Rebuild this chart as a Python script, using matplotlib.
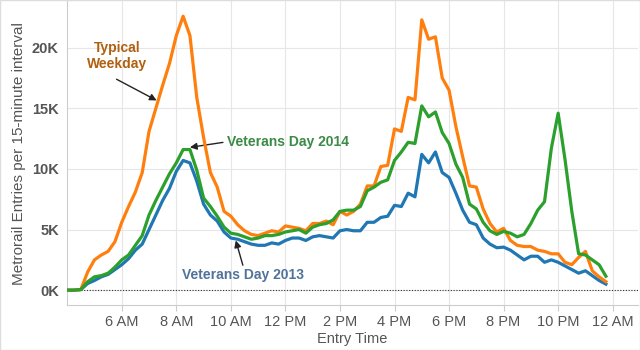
import numpy as np
import matplotlib
matplotlib.use('Agg')
import matplotlib.pyplot as plt

plt.rcParams['font.family'] = ['Liberation Sans', 'DejaVu Sans']

# entry time in hours, 15-minute intervals from 4:00 AM to 11:45 PM
hours = np.arange(4, 24, 0.25)

# entries per 15-minute interval, in thousands
weekday = [0, 0, 0.05, 1.5, 2.5, 2.9, 3.2, 4.0,
           5.6, 6.9, 8.1, 9.7, 13.1, 15.0, 16.9, 18.7,
           21.0, 22.6, 21.0, 15.9, 12.6, 9.7, 8.5, 6.5,
           6.1, 5.4, 4.9, 4.6, 4.5, 4.7, 4.9, 4.8,
           5.3, 5.2, 5.1, 4.9, 5.5, 5.5, 5.7, 5.4,
           6.5, 6.2, 6.5, 7.1, 8.6, 8.6, 10.2, 10.3,
           13.3, 13.1, 15.9, 15.7, 22.3, 20.7, 20.9, 17.5,
           16.5, 13.5, 11.0, 8.6, 8.5, 6.7, 5.5, 4.8,
           5.1, 4.1, 3.7, 3.6, 3.6, 3.3, 3.2, 3.0,
           3.0, 2.3, 2.1, 2.7, 3.2, 1.6, 1.1, 0.7]

vet2014 = [0, 0, 0.05, 0.7, 1.1, 1.2, 1.4, 1.9,
           2.5, 2.9, 3.7, 4.5, 6.2, 7.4, 8.5, 9.6,
           10.5, 11.6, 11.6, 9.9, 7.6, 6.9, 6.1, 5.2,
           4.7, 4.6, 4.4, 4.2, 4.3, 4.5, 4.5, 4.6,
           4.8, 4.9, 5.0, 4.7, 5.2, 5.4, 5.5, 5.8,
           6.5, 6.6, 6.6, 6.9, 8.2, 8.5, 8.9, 9.1,
           10.7, 11.4, 12.2, 12.1, 15.2, 14.3, 14.7, 13.0,
           12.1, 10.4, 9.3, 7.1, 6.7, 5.6, 4.9, 4.6,
           4.85, 4.7, 4.4, 4.6, 5.5, 6.6, 7.3, 11.7,
           14.6, 10.8, 6.5, 3.0, 2.9, 2.5, 2.1, 1.15]

vet2013 = [0, 0, 0.05, 0.55, 0.8, 1.1, 1.3, 1.7,
           2.1, 2.6, 3.3, 3.8, 5.0, 6.2, 7.4, 8.4,
           9.8, 10.7, 10.5, 9.0, 7.1, 6.2, 5.7, 4.8,
           4.3, 4.2, 4.0, 3.8, 3.7, 3.7, 3.9, 3.8,
           4.1, 4.3, 4.3, 4.1, 4.4, 4.5, 4.4, 4.3,
           4.9, 5.0, 4.9, 4.9, 5.6, 5.6, 6.0, 6.1,
           7.0, 6.9, 8.0, 7.7, 11.2, 10.5, 11.4, 9.7,
           9.3, 8.0, 6.6, 5.6, 5.4, 4.3, 3.8, 3.5,
           3.55, 3.3, 2.9, 2.5, 2.8, 2.8, 2.3, 2.5,
           2.3, 2.0, 1.7, 1.4, 1.6, 1.2, 0.8, 0.5]

tick_hours = [6, 8, 10, 12, 14, 16, 18, 20, 22, 24]
tick_labels = ['6 AM', '8 AM', '10 AM', '12 PM', '2 PM', '4 PM',
               '6 PM', '8 PM', '10 PM', '12 AM']
y_ticks = [0, 5, 10, 15, 20]
y_labels = ['0K', '5K', '10K', '15K', '20K']

fig = plt.figure(figsize=(6.4, 3.5), dpi=100)
ax = fig.add_axes([0.105, 0.128, 0.892, 0.869])

ax.plot(hours, vet2013, color='#1f77b4', lw=2.3, zorder=3)
ax.plot(hours, weekday, color='#ff7f0e', lw=2.3, zorder=4)
ax.plot(hours, vet2014, color='#2ca02c', lw=2.3, zorder=5)

ax.axhline(0, color='#333333', lw=0.8, ls=(0, (1, 1.5)), zorder=2)

ax.set_xlim(4, 24.93)
ax.set_ylim(-1.24, 23.85)
ax.set_xticks(tick_hours)
ax.set_xticklabels(tick_labels, fontsize=10.5, color='#555555')
ax.set_yticks(y_ticks)
ax.set_yticklabels(y_labels, fontsize=10.5, color='#555555', fontweight='bold')
ax.tick_params(axis='y', length=0, pad=6)
ax.tick_params(axis='x', length=4, color='#cccccc', pad=3)
ax.grid(True, color='#e6e6e6', lw=0.8)
ax.set_axisbelow(True)

for s in ['top', 'right']:
    ax.spines[s].set_visible(False)
for s in ['left', 'bottom']:
    ax.spines[s].set_color('#cccccc')

ax.set_xlabel('Entry Time', fontsize=10.5, color='#555555', labelpad=2)
ax.set_ylabel('Metrorail Entries per 15-minute interval', fontsize=11,
              color='#555555', labelpad=4)

# annotations: labels and separate arrows
arrow = dict(arrowstyle='-|>', color='#222222', lw=1, shrinkA=0,
             shrinkB=0, mutation_scale=10)

ax.text(5.84, 19.3, 'Typical\nWeekday', fontsize=10, fontweight='bold',
        color='#b0600f', ha='center', va='center', linespacing=1.15)
ax.annotate('', xy=(7.28, 15.65), xytext=(5.81, 17.4), arrowprops=arrow)

ax.text(9.85, 12.2, 'Veterans Day 2014', fontsize=10, fontweight='bold',
        color='#3b8a45', ha='left', va='center')
ax.annotate('', xy=(8.5, 11.78), xytext=(9.71, 12.19), arrowprops=arrow)

ax.text(10.44, 1.24, 'Veterans Day 2013', fontsize=10, fontweight='bold',
        color='#50739a', ha='center', va='center')
ax.annotate('', xy=(10.18, 4.1), xytext=(10.44, 2.06), arrowprops=arrow)

# thin frame round the picture
fig.patches.append(plt.Rectangle((0, 0), 1, 1, transform=fig.transFigure,
                                 fill=False, edgecolor='#dddddd', lw=1))

plt.savefig('out.png', dpi=100)
